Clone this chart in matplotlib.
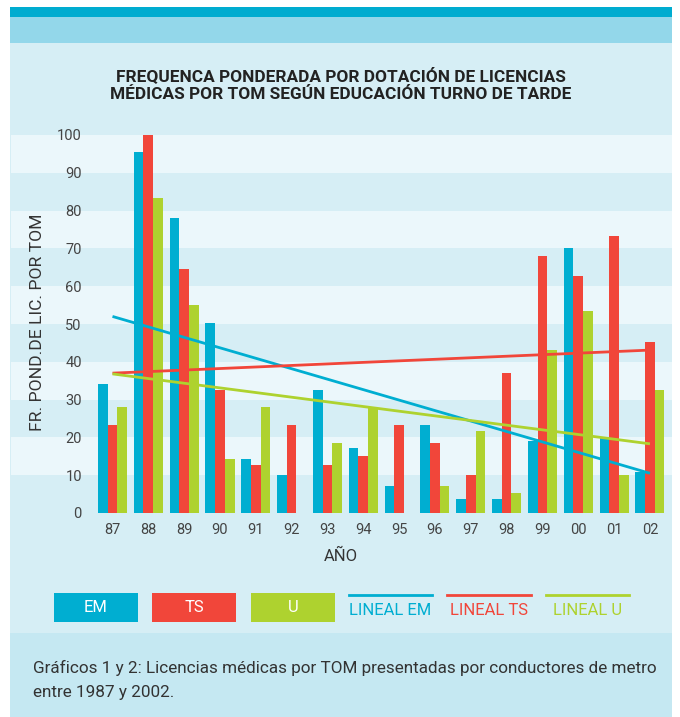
import matplotlib
matplotlib.use("Agg")
import matplotlib.pyplot as plt
from matplotlib.patches import Rectangle
from matplotlib.lines import Line2D
import numpy as np

plt.rcParams['font.family'] = ['Roboto', 'DejaVu Sans']

# ---- data ----
years = ["87", "88", "89", "90", "91", "92", "93", "94", "95", "96", "97", "98", "99", "00", "01", "02"]
em = [34.0, 95.5, 78.0, 50.3, 14.3, 10.0, 32.5, 17.2, 7.1, 23.3, 3.7, 3.7, 19.0, 70.1, 20.1, 10.8]
ts = [23.3, 100.0, 64.5, 32.5, 12.7, 23.3, 12.7, 15.1, 23.3, 18.5, 10.0, 37.0, 68.0, 62.7, 73.3, 45.2]
u = [28.0, 83.3, 55.0, 14.3, 28.0, 0.0, 18.5, 27.7, 0.0, 7.1, 21.7, 5.3, 43.1, 53.4, 10.0, 32.5]
# trend line values at first and last year
lineal_em = [52.0, 10.5]
lineal_ts = [37.0, 43.1]
lineal_u = [36.8, 18.3]
yticks = [0, 10, 20, 30, 40, 50, 60, 70, 80, 90, 100]
series_names = ["EM", "TS", "U"]
line_names = ["LINEAL EM", "LINEAL TS", "LINEAL U"]

C_EM = "#00aed1"
C_TS = "#f1463a"
C_U = "#aed22f"
PANEL = "#d6eef5"
STRIPE = "#ebf7fb"
TOPDARK = "#00acd0"
TOPLIGHT = "#93d7ea"
CAPTION = "#c5e8f2"
TXT = "#333333"

W, H = 680, 717
fig = plt.figure(figsize=(W / 100, H / 100), dpi=100)
fig.patch.set_facecolor("white")


def px_rect(x0, y0, x1, y1, color, z=-1):
    fig.patches.append(Rectangle((x0 / W, 1 - y1 / H), (x1 - x0) / W, (y1 - y0) / H,
                                 transform=fig.transFigure, facecolor=color,
                                 edgecolor="none", zorder=z))


px_rect(10, 7, 672, 17, TOPDARK)
px_rect(10, 17, 672, 43, TOPLIGHT)
px_rect(10, 43, 672, 633, PANEL)
px_rect(10, 633, 672, 717, CAPTION)

# axes: spans the panel width, y from 0 (px 513) to 100 (px 135)
ax_left, ax_right = 11, 672
y0_px, y100_px = 513, 135
ax = fig.add_axes([ax_left / W, 1 - y0_px / H, (ax_right - ax_left) / W, (y0_px - y100_px) / H])
ax.set_facecolor("none")
x_first_px, step_px = 112.5, 35.83
ax.set_xlim((ax_left - x_first_px) / step_px, (ax_right - x_first_px) / step_px)
ax.set_ylim(0, 100)

for lo in range(10, 100, 20):
    ax.axhspan(lo, lo + 10, color=STRIPE, zorder=0, lw=0)

x = np.arange(len(years))
bw = 0.27
ax.bar(x - bw, em, bw, color=C_EM, zorder=2, lw=0)
ax.bar(x, ts, bw, color=C_TS, zorder=2, lw=0)
ax.bar(x + bw, u, bw, color=C_U, zorder=2, lw=0)

xe = [x[0], x[-1]]
ax.plot(xe, lineal_em, color=C_EM, lw=2.0, zorder=3, solid_capstyle="butt")
ax.plot(xe, lineal_ts, color=C_TS, lw=2.0, zorder=3, solid_capstyle="butt")
ax.plot(xe, lineal_u, color=C_U, lw=2.0, zorder=3, solid_capstyle="butt")

for s in ax.spines.values():
    s.set_visible(False)
ax.set_xticks(x, years)
ax.set_yticks(yticks, [str(t) for t in yticks])
ax.tick_params(axis="x", length=0, pad=7, labelsize=10.5, labelcolor="#444444")
ax.tick_params(axis="y", length=0, pad=-51, labelsize=10.5, labelcolor="#444444")

# texts
fig.text(341 / W, 1 - 84.5 / H,
         "FREQUENCA PONDERADA POR DOTACIÓN DE LICENCIAS\nMÉDICAS POR TOM SEGÚN EDUCACIÓN TURNO DE TARDE",
         ha="center", va="center", fontsize=12.4, fontweight="bold", color="#222222",
         linespacing=1.2)
fig.text(341 / W, 1 - 556 / H, "AÑO", ha="center", va="center", fontsize=12, color=TXT)
fig.text(37.5 / W, 1 - 322 / H, "FR. POND.DE LIC. POR TOM", ha="center", va="center",
         rotation=90, fontsize=12.6, color=TXT)

# legend
boxes = [(54, 138, C_EM), (152, 236, C_TS), (251, 335, C_U)]
for (bx0, bx1, col), name in zip(boxes, series_names):
    px_rect(bx0, 593, bx1, 622, col, z=1)
    fig.text((bx0 + bx1) / 2 / W, 1 - 608 / H, name, ha="center", va="center",
             fontsize=12, color="white")
lines = [(349, 432, C_EM), (447, 531, C_TS), (546, 629, C_U)]
for (lx0, lx1, col), name in zip(lines, line_names):
    fig.lines.append(Line2D([lx0 / W, lx1 / W], [1 - 595 / H, 1 - 595 / H],
                            transform=fig.transFigure, color=col, lw=2.0))
    fig.text((lx0 + lx1) / 2 / W, 1 - 610.5 / H, name, ha="center", va="center",
             fontsize=12, color=col)

fig.text(33 / W, 1 - 668 / H,
         "Gráficos 1 y 2: Licencias médicas por TOM presentadas por conductores de metro",
         ha="left", va="center", fontsize=12.3, color=TXT)
fig.text(33 / W, 1 - 692 / H, "entre 1987 y 2002.", ha="left", va="center",
         fontsize=12.3, color=TXT)

fig.savefig("out.png", dpi=100, facecolor=fig.get_facecolor())
